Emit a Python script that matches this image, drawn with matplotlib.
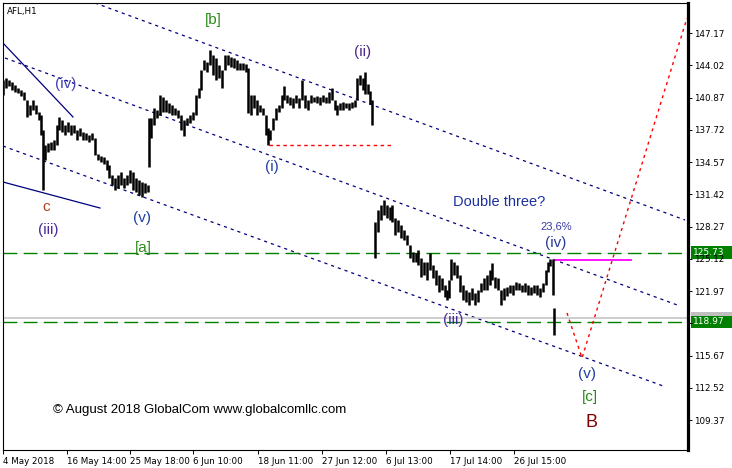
import matplotlib
matplotlib.use("Agg")
import matplotlib.pyplot as plt
from matplotlib.patches import Rectangle
from matplotlib.transforms import blended_transform_factory

# ---------------- data ----------------
bar_index = [0, 3, 6, 9, 12, 15, 18, 21, 24, 27, 30, 33, 36, 38, 40, 42, 45, 48, 51, 54,
             56, 59, 62, 65, 68, 71, 74, 77, 80, 83, 86, 89, 92, 95, 98, 101, 104, 106, 109, 112,
             115, 118, 121, 124, 127, 130, 133, 136, 139, 142, 145,
             146, 148, 151, 154, 157, 160, 163, 166, 169, 172, 175, 178, 181, 184, 187, 190, 193, 196, 198,
             201, 204, 207, 210, 213, 216, 219, 222, 225, 228, 231, 234, 237, 240, 243, 245, 248, 251, 254,
             257, 260, 263, 265, 267, 270, 273, 276, 279, 281, 284, 287, 290, 293, 296, 299, 302, 305, 308,
             311, 314, 317, 320, 323, 326, 329, 332, 334, 337, 340, 343, 346, 349, 352, 354, 357, 360, 362,
             365, 367, 369,
             372, 375, 378, 381, 384, 387, 389, 392, 395, 398, 401, 404, 407, 410, 413, 415, 418, 421, 424,
             427, 430, 433, 436, 439, 442, 444, 446, 448, 451, 454, 457, 460, 463, 466, 469, 472, 475, 478,
             481, 484, 487, 489, 492, 495, 498, 501, 504, 507, 510, 513, 516, 519, 522, 525, 528, 531, 534,
             537, 540, 543, 545, 547, 550, 551]
bar_high = [142.58, 142.77, 142.58, 142.38, 142.09, 141.80, 141.60, 141.41, 140.63, 140.14, 140.63, 140.14,
            139.45, 139.16, 137.70, 136.23, 136.43, 136.53, 136.72, 138.19,
            138.97, 138.67, 138.19, 138.48, 138.19, 138.19, 137.70, 137.89, 137.50, 137.40, 137.21, 137.40,
            136.92, 135.35, 135.16, 135.06, 134.77, 134.28, 133.30, 133.01,
            133.30, 133.60, 133.01, 133.30, 133.79, 133.60, 133.01, 132.81, 132.62, 132.52, 132.33,
            138.87, 138.87, 139.84, 139.65, 141.11, 140.92, 140.63, 140.33, 140.14, 139.84, 139.65, 139.16,
            138.67, 138.87, 139.16, 139.45, 141.11, 141.80, 143.56,
            144.53, 144.34, 145.51, 145.02, 144.73, 144.04, 143.56, 145.02, 145.02, 144.83, 144.73, 144.53,
            144.24, 144.24, 144.14, 143.75, 141.11, 141.11, 140.63,
            140.14, 139.84, 139.16, 137.89, 137.70, 138.87, 139.84, 140.14, 141.11, 141.99, 141.11, 140.92,
            140.82, 141.11, 140.82, 142.58, 141.11, 140.63, 141.11,
            140.92, 141.02, 140.92, 141.11, 140.92, 141.41, 141.80, 140.63, 140.14, 140.33, 140.43, 140.33,
            140.33, 140.43, 140.63, 142.77, 143.07, 142.77,
            143.36, 142.19, 141.50, 140.63,
            128.71, 129.88, 130.37, 130.86, 130.37, 130.18, 130.37, 129.11, 128.91, 128.42, 127.93, 127.44,
            126.47, 125.78, 125.69, 125.98, 125.20, 124.81, 124.81,
            125.69, 124.51, 124.03, 123.54, 123.25, 122.56, 122.07, 123.05, 125.10, 124.81, 124.51, 123.54,
            122.56, 122.07, 121.87, 122.27, 121.77, 122.07,
            122.75, 123.25, 123.54, 124.03, 124.71, 123.35, 123.25, 122.07, 122.27, 122.36, 122.56, 122.56,
            122.85, 122.75, 122.56, 122.75, 122.56, 122.36, 122.56,
            122.56, 122.27, 122.75, 124.03, 124.81, 125.10, 125.10, 120.32]
bar_low = [141.11, 141.80, 141.99, 141.60, 141.41, 141.31, 141.02, 140.63, 138.97, 139.16, 139.65, 139.26,
           138.67, 137.21, 131.84, 134.77, 135.55, 135.74, 135.74, 136.23,
           137.70, 137.50, 137.21, 137.50, 137.21, 137.40, 136.72, 137.11, 136.72, 136.72, 136.53, 136.72,
           135.26, 134.77, 134.57, 134.38, 133.79, 133.01, 132.33, 131.84,
           132.03, 132.33, 132.03, 132.33, 132.52, 131.84, 131.64, 131.35, 131.16, 131.55, 131.64,
           134.08, 136.92, 138.19, 138.87, 139.16, 139.45, 139.45, 139.36, 139.16, 139.16, 138.87, 137.70,
           137.11, 138.19, 138.38, 138.67, 139.16, 140.82, 141.60,
           143.56, 143.36, 144.04, 143.07, 142.58, 142.77, 141.80, 143.56, 144.04, 143.85, 143.75, 143.56,
           143.56, 143.56, 143.36, 139.36, 139.16, 139.84, 139.16,
           139.45, 139.16, 137.21, 136.23, 136.72, 137.70, 138.67, 139.45, 139.84, 140.63, 140.33, 140.14,
           139.84, 140.33, 139.84, 140.63, 139.84, 139.65, 140.33,
           140.43, 140.33, 140.14, 140.43, 140.33, 140.33, 140.63, 139.65, 139.16, 139.65, 139.65, 139.84,
           139.65, 139.84, 139.94, 140.63, 142.09, 141.60,
           141.21, 141.21, 140.24, 138.19,
           125.20, 127.73, 128.91, 129.40, 129.11, 128.91, 128.71, 127.44, 127.73, 127.15, 126.96, 126.47,
           125.20, 124.81, 124.81, 124.51, 123.35, 123.54, 123.05,
           124.03, 123.25, 122.56, 121.87, 122.07, 121.39, 121.10, 121.29, 123.05, 123.54, 123.25, 121.87,
           121.10, 120.90, 120.61, 121.10, 120.61, 120.90,
           121.87, 122.07, 122.07, 122.56, 123.05, 122.27, 122.07, 120.61, 121.10, 121.48, 121.77, 121.58,
           122.07, 122.07, 121.87, 121.87, 121.58, 121.58, 121.77,
           121.58, 121.39, 121.87, 122.56, 123.83, 124.42, 121.58, 117.68]

y_ticks = [147.17, 144.02, 140.87, 137.72, 134.57, 131.42, 128.27, 125.12,
           121.97, 118.82, 115.67, 112.52, 109.37]
y_hidden_tick = 118.82  # covered by the green price box in the original
x_tick_index = [0, 64, 127, 190, 255, 319, 383, 447, 511]
x_tick_labels = ["4 May 2018", "16 May 14:00", "25 May 18:00", "6 Jun 10:00",
                 "18 Jun 11:00", "27 Jun 12:00", "6 Jul 13:00", "17 Jul 14:00", "26 Jul 15:00"]

channel_upper_x, channel_upper_y = [92, 682], [150.10, 128.91]
channel_mid_x, channel_mid_y = [2, 677], [144.73, 120.51]
channel_low_x, channel_low_y = [0, 663], [136.13, 112.60]
wedge_top_x, wedge_top_y = [0, 70], [146.19, 138.97]
wedge_bot_x, wedge_bot_y = [0, 97], [132.62, 130.08]
wave_i_level_x, wave_i_level = [266, 388], 136.23
wave_iv_level_x, wave_iv_level = [551, 628], 125.00
forecast_x = [564, 579, 684]
forecast_y = [119.83, 115.43, 148.63]
green_levels = [125.73, 118.97]
bid_level = 119.34

# ---------------- figure ----------------
W, H = 732, 468
fig = plt.figure(figsize=(W / 100, H / 100), dpi=100)
ax = fig.add_axes([3 / W, 18 / H, 685 / W, 447 / H])
ax.set_xlim(0, 685)
ax.set_ylim(106.45, 150.10)

navy = "#00007f"
dot = (0, (2.5, 3.2))

ax.plot(channel_upper_x, channel_upper_y, color=navy, lw=0.9, ls=dot)
ax.plot(channel_mid_x, channel_mid_y, color=navy, lw=0.9, ls=dot)
ax.plot(channel_low_x, channel_low_y, color=navy, lw=0.9, ls=dot)
ax.plot(wedge_top_x, wedge_top_y, color=navy, lw=0.9)
ax.plot(wedge_bot_x, wedge_bot_y, color=navy, lw=0.9)

ax.axhline(bid_level, color="#c0c0c0", lw=1.1)
for lv in green_levels:
    ax.axhline(lv, color="#008000", lw=1.0, ls=(0, (10, 4.5)))

ax.plot(wave_i_level_x, [wave_i_level] * 2, color="#ff0000", lw=1.0, ls=(0, (2.5, 2.5)))
ax.plot(wave_iv_level_x, [wave_iv_level] * 2, color="#ff00ff", lw=1.3)
ax.plot(forecast_x, forecast_y, color="#ff0000", lw=1.0, ls=(0, (2.2, 2.8)))

ax.vlines(bar_index, bar_low, bar_high, color="black", lw=1.8)

# texts
tfont = "Liberation Sans"
ax.text(4, 149.3, "AFL,H1", fontsize=6.3, family="DejaVu Sans", va="center", ha="left")
lbl = dict(family=tfont, ha="center", va="center")
ax.text(210, 148.44, "[b]", color="#2a8a1a", fontsize=11, **lbl)
ax.text(63, 142.19, "(iv)", color="#4040b0", fontsize=11, **lbl)
ax.text(360, 145.31, "(ii)", color="#4b2a8a", fontsize=11, **lbl)
ax.text(43, 130.18, "c", color="#b0401a", fontsize=11, **lbl)
ax.text(45, 127.93, "(iii)", color="#4b2a9a", fontsize=11, **lbl)
ax.text(139, 129.10, "(v)", color="#2040a0", fontsize=11, **lbl)
ax.text(140, 126.17, "[a]", color="#2a8a1a", fontsize=11, **lbl)
ax.text(269, 134.08, "(i)", color="#2040a0", fontsize=11, **lbl)
ax.text(496, 130.67, "Double three?", color="#1a30a0", fontsize=10.5, **lbl)
ax.text(553, 128.32, "23,6%", color="#3a3aa0", fontsize=8, **lbl)
ax.text(553, 126.66, "(iv)", color="#2a3a9a", fontsize=11, **lbl)
ax.text(450, 119.14, "(iii)", color="#4b2a9a", fontsize=11, **lbl)
ax.text(584, 113.87, "(v)", color="#2040a0", fontsize=11, **lbl)
ax.text(587, 111.62, "[c]", color="#2a8a1a", fontsize=11, **lbl)
ax.text(589, 109.18, "B", color="#800000", fontsize=13, **lbl)
ax.text(197, 110.35, "\u00a9 August 2018 GlobalCom www.globalcomllc.com",
        color="black", fontsize=9.5, **lbl)

# axes styling
for s in ["left", "top", "bottom"]:
    ax.spines[s].set_linewidth(0.8)
ax.spines["right"].set_linewidth(2.3)
ax.yaxis.tick_right()
ax.set_yticks(y_ticks)
ax.set_yticklabels(["" if v == y_hidden_tick else f"{v:.2f}" for v in y_ticks])
ax.set_xticks(x_tick_index)
ax.set_xticklabels(x_tick_labels, ha="left")
ax.tick_params(axis="both", direction="out", length=3, width=0.7, labelsize=6.3, pad=1.5)
ax.tick_params(axis="x", pad=2)
for t in ax.get_xticklabels() + ax.get_yticklabels():
    t.set_family("DejaVu Sans")

# price labels on the right
trans = blended_transform_factory(fig.transFigure, ax.transData)
ax.add_patch(Rectangle((691 / W, bid_level - 0.6), 1 - 691 / W, 1.2, transform=trans,
                       fc="#c0c0c0", ec="none", clip_on=False))
for lv in green_levels:
    ax.add_patch(Rectangle((691 / W, lv - 0.6), 1 - 691 / W, 1.2, transform=trans,
                           fc="#008000", ec="none", clip_on=False))
    ax.text(693 / W, lv, f"{lv:.2f}", transform=trans, color="white",
            fontsize=6.5, va="center", ha="left", family="DejaVu Sans", clip_on=False)

fig.savefig("out.png", dpi=100, facecolor="white")
